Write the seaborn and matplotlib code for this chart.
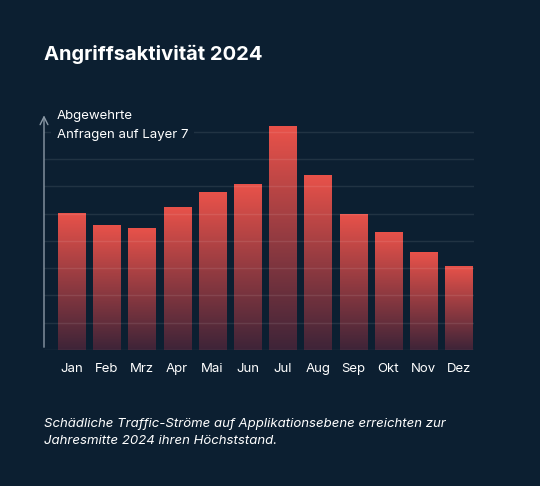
import numpy as np
import pandas as pd
import matplotlib
matplotlib.use("Agg")
import matplotlib.pyplot as plt
import seaborn as sns
from matplotlib.colors import LinearSegmentedColormap

# data (units = gridline steps)
months = ["Jan", "Feb", "Mrz", "Apr", "Mai", "Jun", "Jul", "Aug", "Sep", "Okt", "Nov", "Dez"]
values = [5.03, 4.58, 4.47, 5.25, 5.78, 6.07, 8.2, 6.43, 5.0, 4.33, 3.58, 3.08]
grid_levels = [1, 2, 3, 4, 5, 6, 7, 8]

title = "Angriffsaktivität 2024"
ylabel = "Abgewehrte\nAnfragen auf Layer 7"
caption = "Schädliche Traffic-Ströme auf Applikationsebene erreichten zur\nJahresmitte 2024 ihren Höchststand."

bg = "#0c1f31"
sns.set_theme(style="dark")
plt.rcParams["font.family"] = ["Inter", "DejaVu Sans"]

df = pd.DataFrame({"Monat": months, "Wert": values})

fig = plt.figure(figsize=(5.4, 4.86), dpi=100, facecolor=bg)
ax = fig.add_axes([44 / 540, 1 - 350 / 486, 430 / 540, 238 / 486])
ax.set_facecolor(bg)

sns.barplot(data=df, x="Monat", y="Wert", ax=ax, width=0.77, color="#e8504a", zorder=2)

# gradient fill for each bar
cmap = LinearSegmentedColormap.from_list("bar", ["#e9524a", "#3e2438"])
grad = np.linspace(0, 1, 256).reshape(-1, 1)
for p in ax.patches:
    x0, y0 = p.get_x(), p.get_y()
    w, h = p.get_width(), p.get_height()
    p.set_facecolor("none")
    p.set_edgecolor("none")
    im = ax.imshow(grad, cmap=cmap, aspect="auto", extent=[x0, x0 + w, y0, y0 + h],
                   origin="upper", zorder=2)
    im.set_clip_path(p)

ax.set_xlim(-0.78, 11.43)
ax.set_ylim(0, 8.72)

for g in grid_levels:
    ax.axhline(g, color="white", alpha=0.09, lw=1, zorder=3)
ax.axhline(0, color="white", alpha=0.12, lw=1, zorder=3)

# y axis arrow
ax.annotate("", xy=(-0.78, 8.7), xytext=(-0.78, 0),
            arrowprops=dict(arrowstyle="->", color="#8b99a6", lw=1, mutation_scale=14),
            zorder=4, annotation_clip=False)

ax.text(57 / 540, 1 - 110 / 486, ylabel, transform=fig.transFigure, color="white",
        fontsize=9.5, va="top", ha="left", linespacing=1.75, zorder=5,
        bbox=dict(facecolor=bg, edgecolor="none", pad=4))

for s in ax.spines.values():
    s.set_visible(False)
ax.set_yticks([])
ax.set_xlabel("")
ax.set_ylabel("")
ax.tick_params(axis="x", colors="white", labelsize=9.5, length=0, pad=9)
ax.grid(False)

fig.text(44 / 540, 1 - 54 / 486, title, color="white", fontsize=14.5,
         fontweight="bold", va="center", ha="left")
fig.text(44 / 540, 1 - 418 / 486, caption, color="white", fontsize=9.5,
         style="italic", va="top", ha="left", linespacing=1.55)

fig.savefig("out.png", dpi=100, facecolor=bg)
